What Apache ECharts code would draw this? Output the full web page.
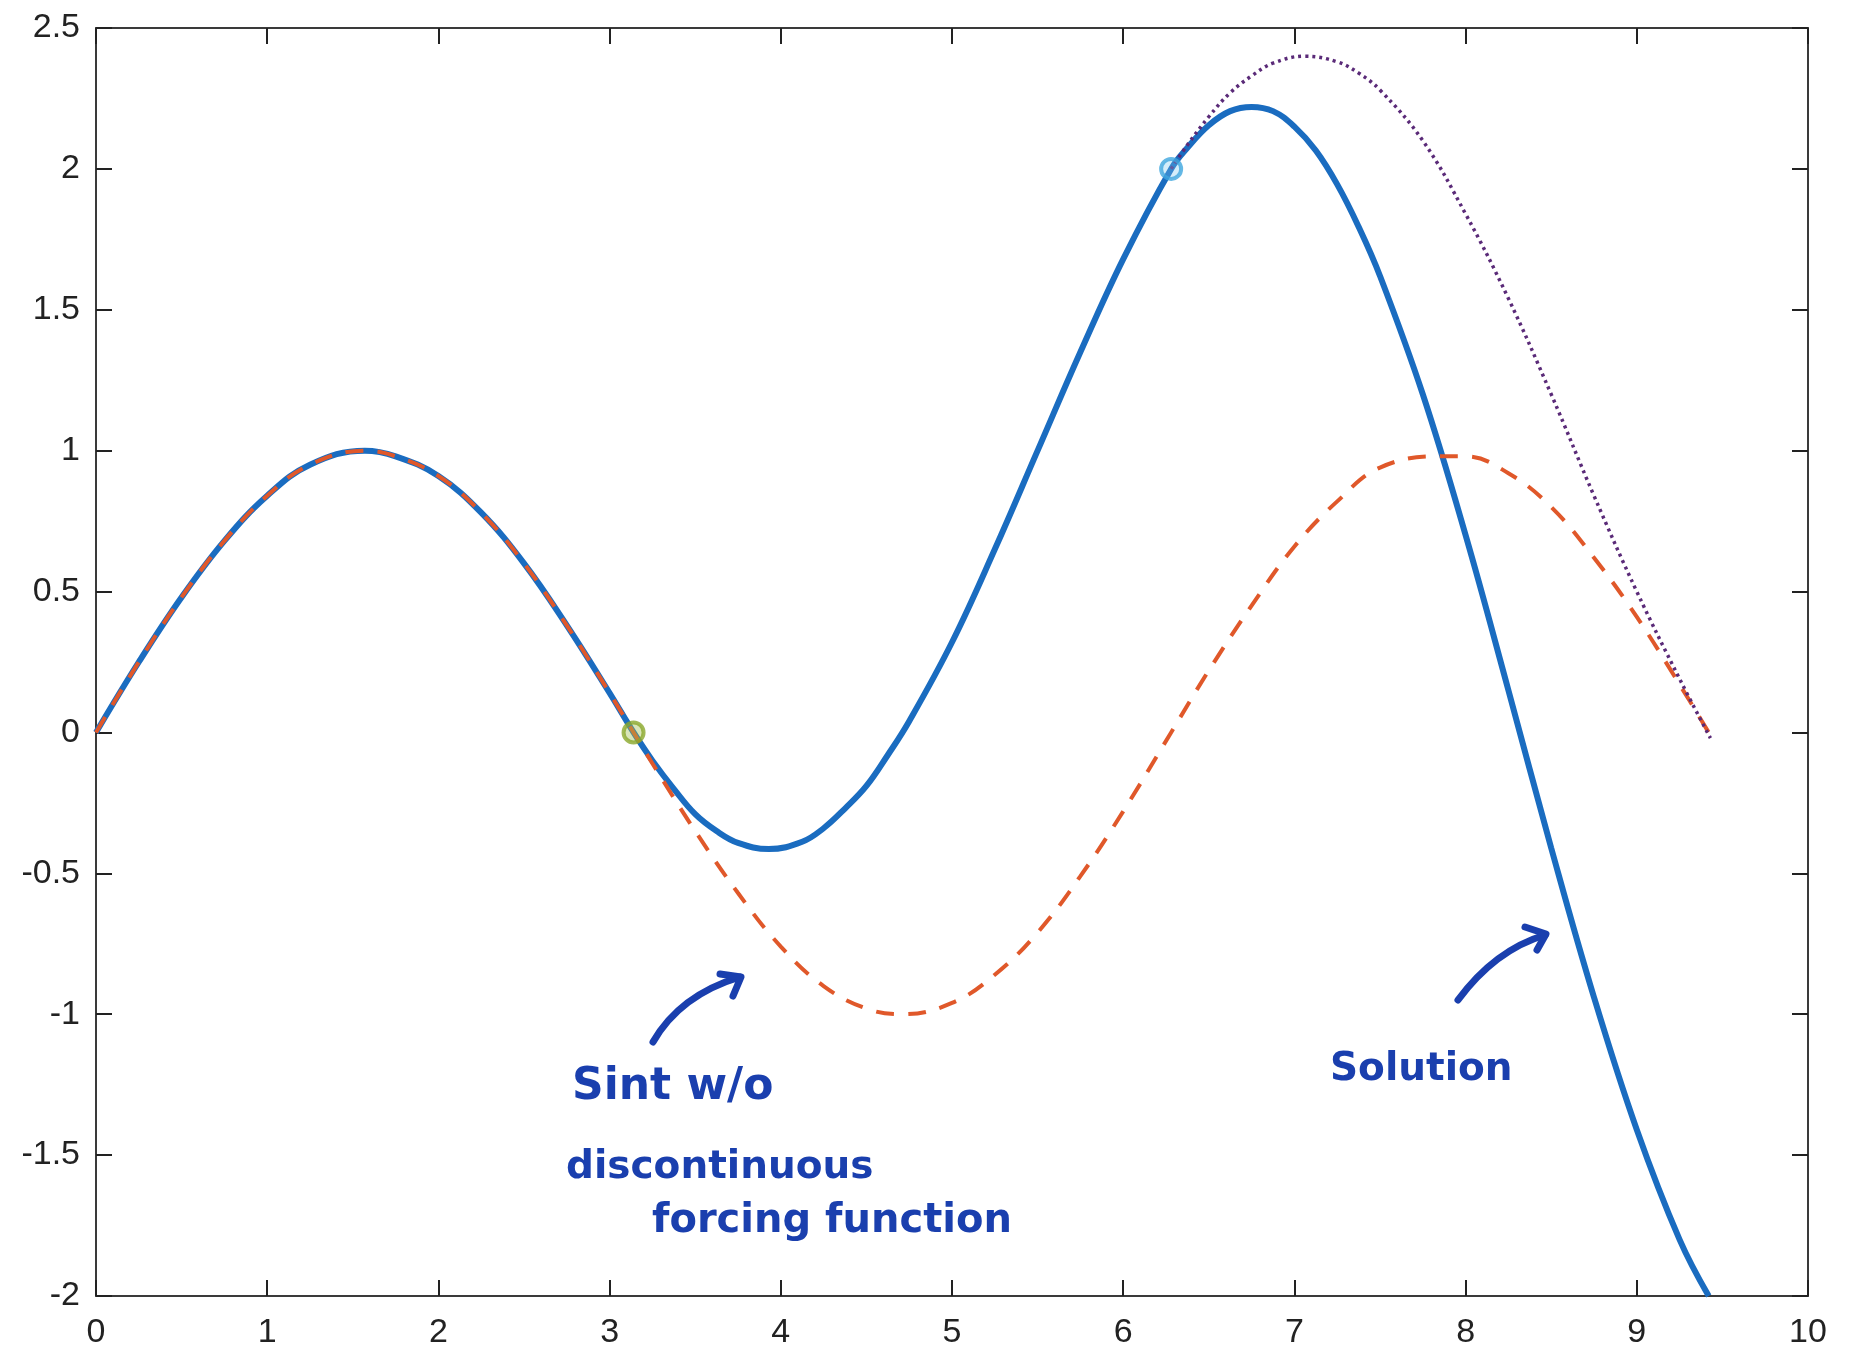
<!DOCTYPE html>
<html>
<head>
<meta charset="utf-8">
<script src="https://cdn.jsdelivr.net/npm/echarts@6/dist/echarts.min.js"></script>
<style>
  html, body { margin: 0; padding: 0; background: #fff; }
  #main { width: 1849px; height: 1356px; }
</style>
</head>
<body>
<div id="main"></div>
<script>
// sin t without the discontinuous forcing (red dashed)
var tSin = [0, 0.25, 0.5, 0.75, 1.0, 1.25, 1.57, 1.75, 2.0, 2.25, 2.5, 2.75, 3.0, 3.14,
  3.25, 3.5, 3.75, 4.0, 4.25, 4.5, 4.71, 5.0, 5.25, 5.5, 5.75, 6.0, 6.28,
  6.5, 6.75, 7.0, 7.25, 7.5, 7.85, 8.0, 8.25, 8.5, 8.75, 9.0, 9.25, 9.42];
var sinT = [0, 0.25, 0.48, 0.68, 0.84, 0.95, 1.0, 0.98, 0.91, 0.78, 0.6, 0.38, 0.14, 0,
  -0.11, -0.35, -0.57, -0.76, -0.9, -0.98, -1.0, -0.96, -0.86, -0.71, -0.51, -0.28, 0,
  0.22, 0.45, 0.66, 0.82, 0.94, 0.98, 0.98, 0.92, 0.8, 0.62, 0.41, 0.17, 0];

// solution (solid blue)
var tSol = [0, 0.25, 0.5, 0.75, 1.0, 1.25, 1.57, 1.75, 2.0, 2.25, 2.5, 2.75, 3.0, 3.14,
  3.25, 3.375, 3.5, 3.625, 3.75, 3.93, 4.125, 4.25, 4.375, 4.5, 4.625, 4.75,
  5.0, 5.25, 5.5, 5.75, 6.0, 6.28,
  6.375, 6.5, 6.625, 6.75, 6.875, 7.0, 7.125, 7.25, 7.375, 7.5,
  7.75, 8.0, 8.25, 8.5, 8.75, 9.0, 9.25, 9.42];
var solution = [0, 0.25, 0.48, 0.68, 0.84, 0.95, 1.0, 0.98, 0.91, 0.78, 0.6, 0.38, 0.14, 0,
  -0.1, -0.2, -0.29, -0.35, -0.392, -0.414, -0.388, -0.34, -0.27, -0.19, -0.08, 0.04,
  0.32, 0.65, 1.0, 1.35, 1.68, 2,
  2.075, 2.155, 2.205, 2.22, 2.205, 2.15, 2.065, 1.945, 1.795, 1.62,
  1.2, 0.7, 0.15, -0.41, -0.94, -1.41, -1.8, -2];

// continuation of the middle piece past 2pi (dotted purple)
var tDot = [6.28, 6.375, 6.5, 6.625, 6.75, 6.875, 7.06, 7.25, 7.375, 7.5,
  7.75, 8.0, 8.25, 8.5, 8.75, 9.0, 9.25, 9.43];
var dotted = [2, 2.085, 2.185, 2.27, 2.33, 2.375, 2.4, 2.38, 2.34, 2.28,
  2.1, 1.84, 1.54, 1.2, 0.84, 0.5, 0.19, -0.02];

// switch points
var switchPts = [[3.14, 0], [6.28, 2]];

var xTicks = { min: 0, max: 10, interval: 1 };
var yTicks = { min: -2, max: 2.5, interval: 0.5 };

function pairs(xs, ys) {
  var out = [];
  for (var i = 0; i < xs.length; i++) out.push([xs[i], ys[i]]);
  return out;
}

var chart = echarts.init(document.getElementById('main'));

var axisCol = '#3a3a3a';
var ink = '#1a3fae';
var hand = 'DejaVu Sans';
var sm = 0.4;

function xAx(pos, showLabel) {
  return {
    type: 'value', position: pos,
    min: xTicks.min, max: xTicks.max, interval: xTicks.interval,
    axisLine: { show: true, onZero: false, lineStyle: { color: axisCol, width: 2 } },
    axisTick: { show: true, inside: true, length: 16, lineStyle: { color: '#222', width: 2 } },
    axisLabel: { show: showLabel, color: '#222', fontSize: 34, fontFamily: 'Liberation Sans', margin: 20 },
    splitLine: { show: false }
  };
}
function yAx(pos, showLabel) {
  return {
    type: 'value', position: pos,
    min: yTicks.min, max: yTicks.max, interval: yTicks.interval,
    axisLine: { show: true, onZero: false, lineStyle: { color: axisCol, width: 2 } },
    axisTick: { show: true, inside: true, length: 16, lineStyle: { color: '#222', width: 2 } },
    axisLabel: { show: showLabel, color: '#222', fontSize: 34, fontFamily: 'Liberation Sans', margin: 16 },
    splitLine: { show: false }
  };
}

chart.setOption({
  backgroundColor: '#fff',
  animation: false,
  grid: { left: 96, right: 41, top: 28, bottom: 60 },
  xAxis: [xAx('bottom', true), xAx('top', false)],
  yAxis: [yAx('left', true), yAx('right', false)],
  series: [
    {
      name: 'solution', type: 'line', smooth: sm, showSymbol: false, z: 2,
      data: pairs(tSol, solution),
      lineStyle: { color: '#1a6cc0', width: 6 }
    },
    {
      name: 'sin t', type: 'line', smooth: sm, showSymbol: false, z: 3,
      data: pairs(tSin, sinT),
      lineStyle: { color: '#e0582a', width: 4, type: [18, 14] }
    },
    {
      name: 'continued', type: 'line', smooth: sm, showSymbol: false, z: 3,
      data: pairs(tDot, dotted),
      lineStyle: { color: '#5a2a78', width: 3.5, type: [3, 4] }
    },
    {
      name: 'switch', type: 'scatter', z: 4,
      symbol: 'circle', symbolSize: 20,
      data: [
        { value: switchPts[0], itemStyle: { color: 'rgba(160,190,80,0.5)', borderColor: '#8aa82a', borderWidth: 4 } },
        { value: switchPts[1], itemStyle: { color: 'rgba(120,200,240,0.4)', borderColor: '#3ea6df', borderWidth: 4 } }
      ]
    }
  ],
  graphic: [
    { type: 'text', left: 572, top: 1066, style: { text: 'Sint w/o', fill: ink, font: 'bold 44px "' + hand + '"' } },
    { type: 'text', left: 566, top: 1148, style: { text: 'discontinuous', fill: ink, font: 'bold 39px "' + hand + '"' } },
    { type: 'text', left: 652, top: 1202, style: { text: 'forcing function', fill: ink, font: 'bold 40px "' + hand + '"' } },
    { type: 'text', left: 1330, top: 1050, style: { text: 'Solution', fill: ink, font: 'bold 39px "' + hand + '"' } },
    { type: 'bezierCurve', shape: { x1: 653, y1: 1042, x2: 740, y2: 977, cpx1: 680, cpy1: 995 },
      style: { stroke: ink, lineWidth: 7, fill: null, lineCap: 'round' } },
    { type: 'polyline', shape: { points: [[720, 974], [741, 977], [733, 996]] },
      style: { stroke: ink, lineWidth: 7, fill: null, lineCap: 'round', lineJoin: 'round' } },
    { type: 'bezierCurve', shape: { x1: 1458, y1: 1000, x2: 1545, y2: 935, cpx1: 1495, cpy1: 950 },
      style: { stroke: ink, lineWidth: 7, fill: null, lineCap: 'round' } },
    { type: 'polyline', shape: { points: [[1525, 927], [1546, 934], [1537, 950]] },
      style: { stroke: ink, lineWidth: 7, fill: null, lineCap: 'round', lineJoin: 'round' } }
  ]
});
</script>
</body>
</html>
